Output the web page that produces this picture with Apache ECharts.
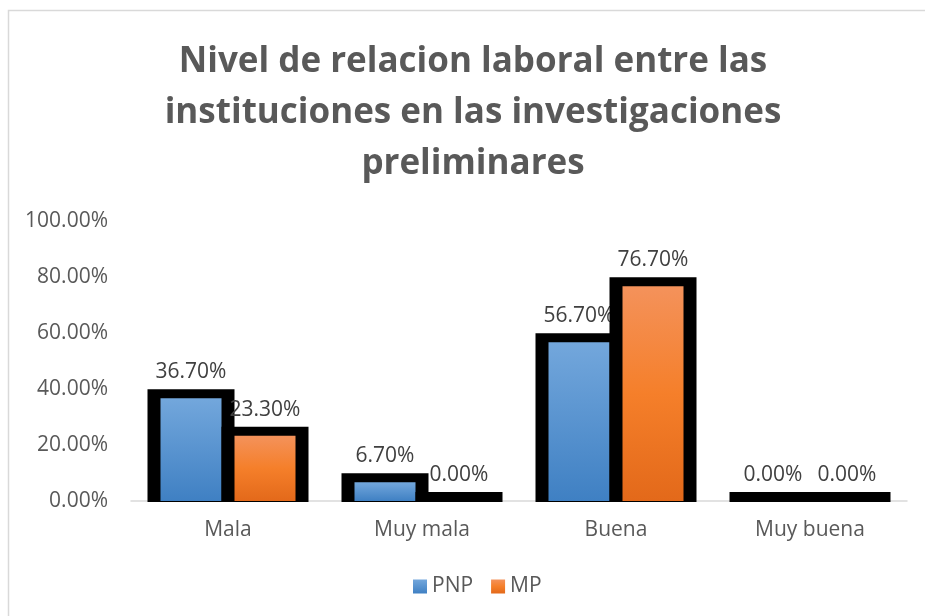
<!DOCTYPE html>
<html>
<head>
<meta charset="utf-8">
<script src="https://cdn.jsdelivr.net/npm/echarts@6/dist/echarts.min.js"></script>
<style>
  html, body { margin: 0; padding: 0; background: #fff; }
  #main { width: 925px; height: 616px; }
</style>
</head>
<body>
<div id="main"></div>
<script>
(function(){
    var categories = ['Mala', 'Muy mala', 'Buena', 'Muy buena'];
    var pnpValues = [36.7, 6.7, 56.7, 0];
    var mpValues = [23.3, 0, 76.7, 0];
    var seriesNames = ['PNP', 'MP'];

    var myChart = echarts.init(document.getElementById('main'));

    var blueFill = new echarts.graphic.LinearGradient(0, 0, 0, 1, [
        { offset: 0, color: '#73a7dc' },
        { offset: 1, color: '#3f80c3' }
    ]);
    var orangeFill = new echarts.graphic.LinearGradient(0, 0, 0, 1, [
        { offset: 0, color: '#f4925b' },
        { offset: 0.5, color: '#f57f2a' },
        { offset: 1, color: '#e3691a' }
    ]);

    // barra con borde negro grueso, estilo Excel
    function makeRender(side, fill) {
        return function (params, api) {
            var ci = api.value(0);
            var v = api.value(1);
            var top = api.coord([ci, v]);
            var base = api.coord([ci, 0]);
            var band = api.size([1, 0])[0];
            var k = band / 194;
            var shapeW = 74 * k;
            var bw = 13 * k;
            var cx = top[0];
            var shapeX = side === 0 ? cx - shapeW : cx;
            var label = v.toFixed(2) + '%';
            return {
                type: 'group',
                children: [
                    {
                        type: 'rect',
                        shape: { x: shapeX - bw / 2, y: top[1] - 9, width: shapeW + bw, height: base[1] - top[1] + 10 },
                        style: { fill: '#000' }
                    },
                    {
                        type: 'rect',
                        shape: { x: shapeX + bw / 2, y: top[1], width: shapeW - bw, height: base[1] - top[1] },
                        style: { fill: fill }
                    },
                    {
                        type: 'text',
                        x: shapeX + shapeW / 2,
                        y: top[1] - 9 - 17,
                        style: {
                            text: label,
                            fill: '#404040',
                            font: '21px "Open Sans"',
                            align: 'center',
                            verticalAlign: 'middle'
                        }
                    }
                ]
            };
        };
    }

    function toData(values) {
        var res = [];
        for (var i = 0; i < values.length; i++) {
            res.push([i, values[i]]);
        }
        return res;
    }

    var option = {
        backgroundColor: '#fff',
        animation: false,
        graphic: [{
            type: 'rect',
            shape: { x: 8.5, y: 10.5, width: 1000, height: 1000 },
            style: { fill: 'none', stroke: '#d9d9d9', lineWidth: 1.5 },
            silent: true
        }],
        title: {
            text: 'Nivel de relacion laboral entre las\ninstituciones en las investigaciones\npreliminares',
            left: 473,
            top: 37,
            padding: 0,
            textAlign: 'center',
            textStyle: {
                color: '#595959',
                fontFamily: 'Open Sans',
                fontWeight: 'bold',
                fontSize: 35,
                lineHeight: 51
            }
        },
        legend: {
            data: seriesNames,
            bottom: 14,
            left: 408,
            itemWidth: 14,
            itemHeight: 14,
            itemGap: 18,
            icon: 'rect',
            textStyle: { color: '#595959', fontFamily: 'Open Sans', fontSize: 21 }
        },
        grid: { left: 131, right: 18, top: 221, bottom: 115 },
        xAxis: {
            type: 'category',
            data: categories,
            axisLine: { lineStyle: { color: '#d9d9d9', width: 1.5 } },
            axisTick: { show: false },
            axisLabel: { color: '#595959', fontFamily: 'Open Sans', fontSize: 21, margin: 19 }
        },
        yAxis: {
            type: 'value',
            min: 0,
            max: 100,
            interval: 20,
            axisLine: { show: false },
            axisTick: { show: false },
            splitLine: { show: false },
            axisLabel: {
                color: '#595959',
                fontFamily: 'Open Sans',
                fontSize: 21,
                margin: 23,
                formatter: function (v) { return v.toFixed(2) + '%'; }
            }
        },
        series: [
            {
                name: 'PNP',
                type: 'custom',
                renderItem: makeRender(0, blueFill),
                itemStyle: { color: blueFill },
                encode: { x: 0, y: 1 },
                data: toData(pnpValues)
            },
            {
                name: 'MP',
                type: 'custom',
                renderItem: makeRender(1, orangeFill),
                itemStyle: { color: orangeFill },
                encode: { x: 0, y: 1 },
                data: toData(mpValues)
            }
        ]
    };

    myChart.setOption(option);
})();
</script>
</body>
</html>
